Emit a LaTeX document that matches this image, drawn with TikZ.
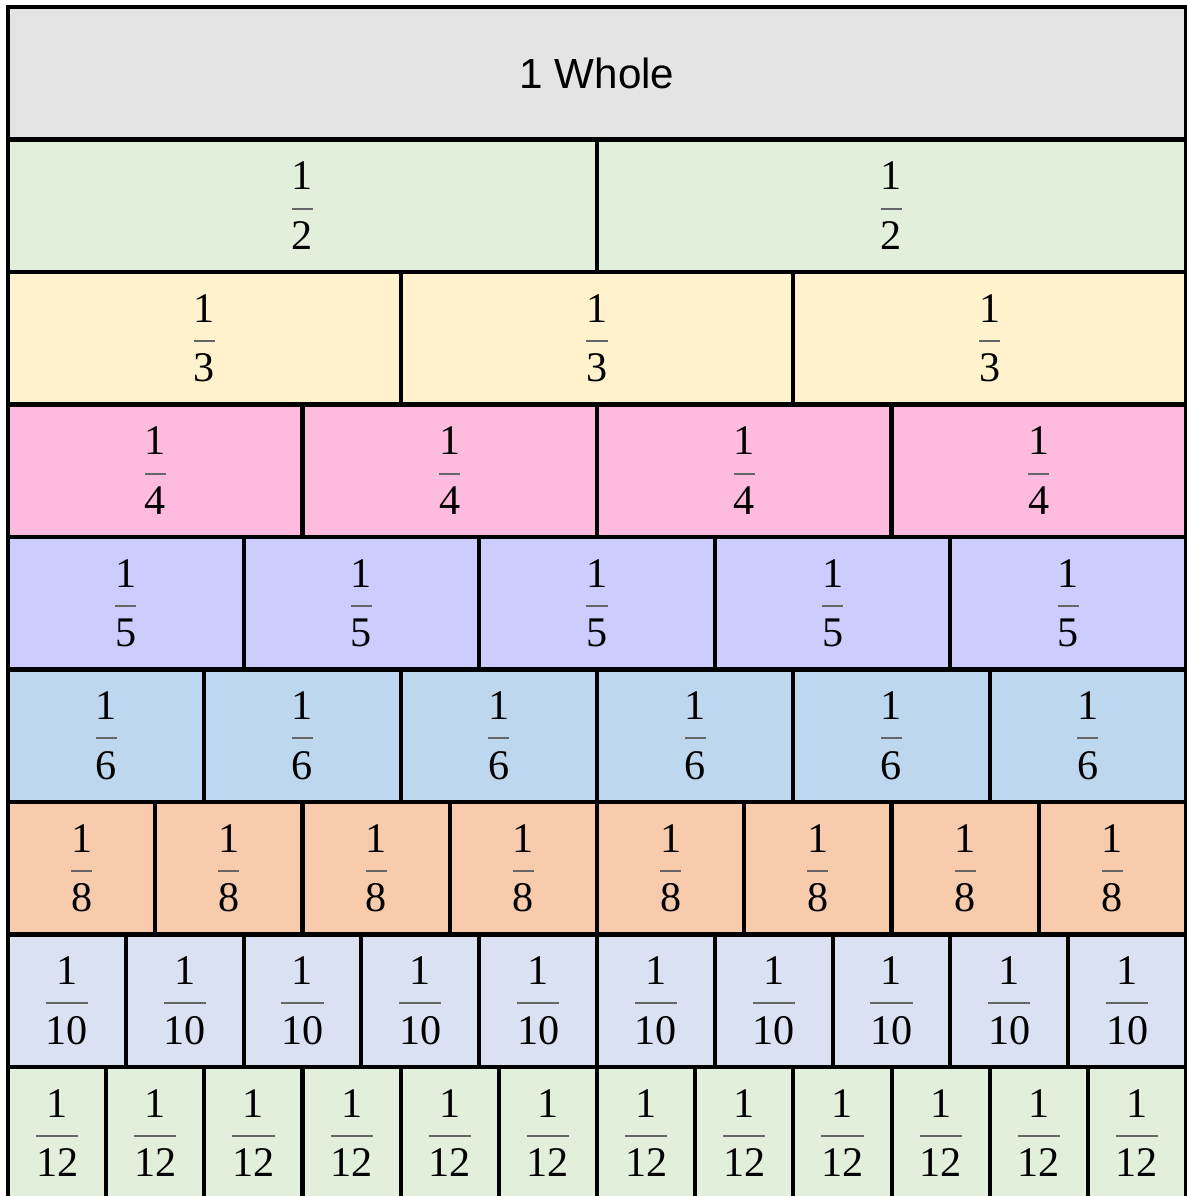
\documentclass[tikz,border=0pt]{standalone}
\usepackage{amsmath}
\usepackage{fontspec}
\setmainfont{Liberation Serif}
\newfontfamily\wholefont{Liberation Sans}

\definecolor{wholegray}{HTML}{E4E4E4}
\definecolor{halfgreen}{HTML}{E2EFDA}
\definecolor{thirdyellow}{HTML}{FFF2CC}
\definecolor{fourthpink}{HTML}{FFBBDE}
\definecolor{fifthlilac}{HTML}{CCCCFF}
\definecolor{sixthblue}{HTML}{BDD7EE}
\definecolor{eighthorange}{HTML}{F8CBAD}
\definecolor{tenthblue}{HTML}{D9E1F3}
\definecolor{twelfthgreen}{HTML}{E2EFDA}

\newcommand{\stripfrac}[1]{\color{black!60}$\genfrac{}{}{1.1pt}{0}{\color{black}\text{1}}{\color{black}\text{#1}}$}

\begin{document}
\begin{tikzpicture}[
  x=0.02cm, y=-0.02cm,
  cell/.style={minimum height=2.65cm, inner sep=0pt, outer sep=0pt, font=\fontsize{24}{28}\selectfont},
  cellborder/.style={line width=0.08cm}
]
\useasboundingbox (0,0) rectangle (1186,1196);

% the whole strip
\node[cell, fill=wholegray, minimum width=23.56cm] (whole) at (597,73.25) {\wholefont 1 Whole};

% one row of unit fractions per denominator
\foreach \r/\n/\col in {1/2/halfgreen, 2/3/thirdyellow, 3/4/fourthpink, 4/5/fifthlilac,
                        5/6/sixthblue, 6/8/eighthorange, 7/10/tenthblue, 8/12/twelfthgreen}
  \foreach \k in {1,...,\n}
    \node[cell, fill=\col, minimum width={23.56cm/\n}] (c\n-\k)
      at ({8+(\k-0.5)*1178/\n}, {7+(\r+0.5)*132.5}) {\stripfrac{\n}};

% borders on top of the fills
\draw[cellborder] (whole.north west) rectangle (whole.south east);
\foreach \n in {2,3,4,5,6,8,10,12}
  \foreach \k in {1,...,\n}
    \draw[cellborder] (c\n-\k.north west) rectangle (c\n-\k.south east);
\end{tikzpicture}
\end{document}
